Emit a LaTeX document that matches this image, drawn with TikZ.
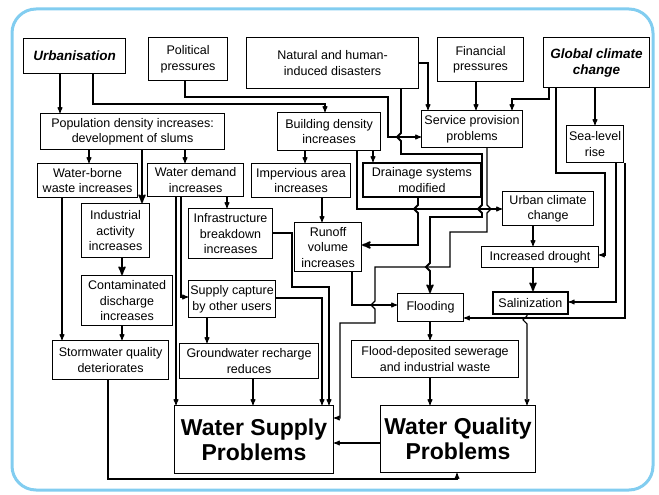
\documentclass[tikz,border=0pt]{standalone}
\usepackage{fontspec}
\setmainfont{Liberation Sans}
\usetikzlibrary{arrows}
\definecolor{frameblue}{RGB}{130,205,240}

\begin{document}
\begin{tikzpicture}[x=1pt, y=-1pt,
>=stealth',
box/.style={draw, rectangle, line width=1.1pt, align=center, inner sep=1pt, anchor=north west,
  font=\fontsize{12.5}{15.5}\selectfont},
sz/.style 2 args={minimum width=#1pt, minimum height=#2pt},
heavy/.style={box, line width=1.8pt},
title/.style={box, font=\fontsize{13.5}{16}\selectfont\bfseries\itshape},
big/.style={box, font=\fontsize{23}{25}\selectfont\bfseries},
link/.style={->, line width=1.1pt},
thicklink/.style={->, line width=1.9pt}]
\useasboundingbox (0,0) rectangle (659,495);
\draw[frameblue, line width=3pt, rounded corners=24pt] (12,9) rectangle (653,490);

% drivers
\node[title, sz={102}{35}] (urb) at (23,38) {Urbanisation};
\node[box, sz={79}{43}] (pol) at (148,37) {Political\\pressures};
\node[box, sz={172}{51}] (nat) at (246,37) {Natural and human-\\induced disasters};
\node[box, sz={86}{44}] (fin) at (437,37) {Financial\\pressures};
\node[title, sz={106}{50}] (glob) at (543,37) {Global climate\\change};

\node[box, sz={184}{36}] (pop) at (40,113) {Population density increases:\\development of slums};
\node[box, sz={103}{38}] (bld) at (277,112) {Building density\\increases};
\node[box, sz={101}{37}] (srv) at (421,110) {Service provision\\problems};
\node[box, sz={57}{37}] (sea) at (566,125) {Sea-level\\rise};

\node[box, sz={100}{34}] (wbw) at (37,163) {Water-borne\\waste increases};
\node[box, sz={96}{33}] (wdm) at (147,163) {Water demand\\increases};
\node[box, sz={99}{34}] (imp) at (251,163) {Impervious area\\increases};
\node[heavy, sz={118}{34}] (drn) at (362,162) {Drainage systems\\modified};
\node[box, sz={91}{34}] (ucc) at (502,191) {Urban climate\\change};

\node[box, sz={68}{54}] (ind) at (81,203) {Industrial\\activity\\increases};
\node[box, sz={84}{50}] (inf) at (188,208) {Infrastructure\\breakdown\\increases};
\node[box, sz={67}{49}] (run) at (294,222) {Runoff\\volume\\increases};
\node[box, sz={117}{21}] (drt) at (481,246) {Increased drought};

\node[box, sz={91}{50}] (con) at (81,275) {Contaminated\\discharge\\increases};
\node[box, sz={87}{37}] (sup) at (188,280) {Supply capture\\by other users};
\node[box, sz={66}{28}] (fld) at (397,293) {Flooding};
\node[heavy, sz={75}{22}] (sal) at (492,291) {Salinization};

\node[box, sz={116}{39}] (stw) at (52,340) {Stormwater quality\\deteriorates};
\node[box, sz={139}{35}] (gwr) at (179,343) {Groundwater recharge\\reduces};
\node[box, sz={167}{37}] (fds) at (351,340) {Flood-deposited sewerage\\and industrial waste};

\node[big, sz={159}{68}] (wsp) at (174,405) {Water Supply\\Problems};
\node[big, sz={155}{67}] (wqp) at (380,405) {Water Quality\\Problems};

% straight drops
\foreach \x/\a/\b in {60/urb/pop, 89/pop/wbw, 185/pop/wdm, 227/wdm/inf, 62/wbw/stw,
  122/con/stw, 207/sup/gwr, 253/gwr/wsp, 176/wdm/wsp, 305/bld/imp, 373/bld/drn,
  322/imp/run, 476/fin/srv, 595/glob/sea, 533/ucc/drt, 430/fld/fds, 430/fds/wqp}
  \draw[link] (\x,0 |- \a.south) -- (\x,0 |- \b.north);
\foreach \x/\a/\b in {142/pop/ind, 122/ind/con, 533/drt/sal}
  \draw[thicklink] (\x,0 |- \a.south) -- (\x,0 |- \b.north);

% routed links
\draw[link] (93,0 |- urb.south) |- (325,104) -- (325,0 |- bld.north);
\draw[link] (185,0 |- pol.south) |- (388,97) |- (srv.west |- 0,137);
\draw[link] (nat.east |- 0,63) -| (428,0 |- srv.north);
\draw[link] (549,0 |- glob.south) |- (512,99) -- (512,0 |- srv.north);
\draw[link] (556,0 |- glob.south) |- (605,173) |- (drt.east |- 0,255);
\draw[link] (616,0 |- sea.south) |- (sal.east |- 0,302);
\draw[link] (625,0 |- sea.south) |- (fld.east |- 0,318);
\draw[link] (527,0 |- sal.south) -- ++(0,1) -- ++(-4,4) -- ++(4,4) -- (527,0 |- wqp.north);
\draw[link] (357,0 |- bld.south) |- (ucc.west |- 0,209);
\draw[thicklink] (418,0 |- drn.south) -- (418,205) -- ++(-4,4) -- ++(4,4) |- (run.east |- 0,245);
\draw[link] (352,0 |- run.south) |- (fld.west |- 0,305);
\draw[thicklink] (401,0 |- nat.south) -- (401,133) -- ++(-4,4) -- ++(4,4) |- (482,154)
  -- (482,205) -- ++(-4,4) -- ++(4,4) |- (430,217)
  -- (430,263) -- ++(-4,4) -- ++(4,4) -- (430,0 |- fld.north);
\draw[link] (487,0 |- srv.south) -- (487,205) -- ++(4,4) -- ++(-4,4) |- (450,232) |- (375,267)
  -- (375,301) -- ++(-4,4) -- ++(4,4) |- (340,323) |- (wsp.east |- 0,418);
\draw[link] (181,0 |- wdm.south) |- (sup.west |- 0,297);
\draw[link] (inf.east |- 0,233) -| (292,287) -| (329,0 |- wsp.north);
\draw[link] (sup.east |- 0,298) -| (322,0 |- wsp.north);
\draw[link] (wqp.west |- 0,443) -- (wsp.east |- 0,443);
\draw[link] (108,0 |- stw.south) |- (457,479) -- (457,0 |- wqp.south);
\end{tikzpicture}
\end{document}
